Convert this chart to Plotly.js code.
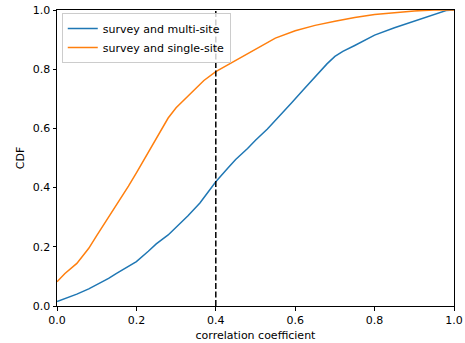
<!DOCTYPE html>
<html><head><meta charset="utf-8">
<script src="https://cdn.plot.ly/plotly-3.0.1.min.js"></script>
<style>html,body{margin:0;padding:0;background:#fff}#chart{width:465px;height:343px}</style>
</head><body><div id="chart"></div>
<script>
const multiX = [0, 0.02, 0.05, 0.08, 0.1, 0.13, 0.15, 0.18, 0.2, 0.23, 0.25, 0.28, 0.3, 0.33, 0.36, 0.4, 0.43, 0.45, 0.48, 0.5, 0.53, 0.56, 0.59, 0.62, 0.65, 0.68, 0.7, 0.72, 0.75, 0.8, 0.85, 0.9, 0.95, 0.98, 1.0];
const multiY = [0.015, 0.025, 0.04, 0.058, 0.071, 0.093, 0.11, 0.133, 0.15, 0.185, 0.21, 0.24, 0.265, 0.305, 0.348, 0.42, 0.465, 0.495, 0.532, 0.56, 0.598, 0.64, 0.685, 0.73, 0.775, 0.818, 0.843, 0.86, 0.88, 0.915, 0.94, 0.962, 0.985, 0.998, 1.0];
const singleX = [0, 0.02, 0.05, 0.08, 0.1, 0.12, 0.15, 0.18, 0.2, 0.23, 0.25, 0.28, 0.3, 0.33, 0.37, 0.4, 0.43, 0.45, 0.48, 0.51, 0.55, 0.6, 0.65, 0.7, 0.75, 0.8, 0.85, 0.9, 0.95, 1.0];
const singleY = [0.082, 0.11, 0.144, 0.195, 0.238, 0.28, 0.34, 0.405, 0.45, 0.52, 0.565, 0.635, 0.67, 0.71, 0.762, 0.792, 0.815, 0.828, 0.852, 0.876, 0.905, 0.93, 0.948, 0.962, 0.975, 0.985, 0.992, 0.997, 1.0, 1.0];
const seriesNames = ["survey and multi-site", "survey and single-site"];
const thresholdX = [0.4, 0.4];
const thresholdY = [0, 1];
const xTicks = [0, 0.2, 0.4, 0.6, 0.8, 1.0];
const yTicks = [0, 0.2, 0.4, 0.6, 0.8, 1.0];

const traces = [
  {x: multiX, y: multiY, name: seriesNames[0], mode: "lines", line: {color: "#1f77b4", width: 1.5}},
  {x: singleX, y: singleY, name: seriesNames[1], mode: "lines", line: {color: "#ff7f0e", width: 1.5}},
  {x: thresholdX, y: thresholdY, mode: "lines", showlegend: false, line: {color: "black", width: 1.5, dash: "6px,2.5px"}}
];
const axisCommon = {
  showline: true, mirror: true, linecolor: "black", linewidth: 1,
  ticks: "outside", ticklen: 3.5, tickcolor: "black", showgrid: false, zeroline: false,
  tickfont: {family: "DejaVu Sans", size: 11, color: "black"}
};
const layout = {
  width: 465, height: 343,
  margin: {l: 57, r: 11, t: 10, b: 37},
  paper_bgcolor: "white", plot_bgcolor: "white",
  font: {family: "DejaVu Sans", size: 11, color: "black"},
  xaxis: Object.assign({}, axisCommon, {range: [0, 1], tickvals: xTicks, ticktext: xTicks.map(v => v.toFixed(1)),
    title: {text: "correlation coefficient", font: {size: 11}, standoff: 5}}),
  yaxis: Object.assign({}, axisCommon, {range: [0, 1], tickvals: yTicks, ticktext: yTicks.map(v => v.toFixed(1)),
    title: {text: "CDF", font: {size: 11}, standoff: 5}}),
  legend: {x: 0.012, y: 0.99, xanchor: "left", yanchor: "top", bgcolor: "rgba(255,255,255,0.8)",
    bordercolor: "#cccccc", borderwidth: 1, font: {size: 11}, tracegroupgap: 0, itemwidth: 30},
  showlegend: true
};
Plotly.newPlot("chart", traces, layout, {displayModeBar: false, staticPlot: true});
</script></body></html>
